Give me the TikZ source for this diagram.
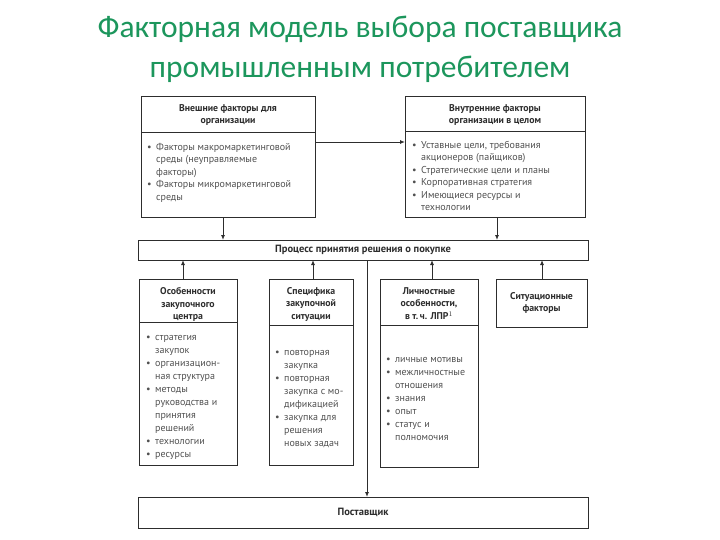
\documentclass[tikz,border=0pt]{standalone}
\usepackage{fontspec}
\setmainfont{PT Sans}
\newfontfamily\titlefont{Carlito}
\usetikzlibrary{arrows.meta,calc}
\definecolor{ttl}{RGB}{28,150,92}
\definecolor{ink}{RGB}{45,45,45}
\definecolor{txt}{RGB}{80,80,80}
\newcommand{\bul}{\makebox[9pt][l]{\textbullet}}
\newcommand{\ind}{\hspace*{9pt}}
\begin{document}
\begin{tikzpicture}[x=1pt,y=-1pt,
  box/.style={draw=ink,line width=1pt,anchor=north west,inner sep=0pt,outer sep=0pt},
  hdr/.style={align=center,anchor=north,inner sep=0pt,text=ink,font=\fontsize{9.8}{12.8}\selectfont\bfseries},
  lst/.style={align=left,anchor=north west,inner sep=0pt,text=txt,font=\fontsize{10}{12.5}\selectfont},
  lstb/.style={lst,font=\fontsize{10}{13}\selectfont},
  lbl/.style={inner sep=0pt,text=ink,font=\fontsize{10.5}{12.8}\selectfont\bfseries},
  conn/.style={draw=ink,line width=0.9pt},
  arr/.style={conn,-{Latex[length=5pt,width=4pt]}}]
\useasboundingbox (0,0) rectangle (720,540);
% title
\node[anchor=base,inner sep=0pt,text=ttl,font=\titlefont\fontsize{31.5}{34}\selectfont] (t1) at (360,38) {Факторная модель выбора поставщика};
\node[anchor=base,inner sep=0pt,text=ttl,font=\titlefont\fontsize{31.5}{34}\selectfont] (t2) at (360,78) {промышленным потребителем};
% boxes
\node[box,minimum width=174,minimum height=121] (ext) at (141,97) {};
\node[box,minimum width=180,minimum height=121] (int) at (405,97) {};
\node[box,minimum width=450,minimum height=20] (proc) at (138,240) {};
\node[box,minimum width=98,minimum height=186] (b1) at (139,279) {};
\node[box,minimum width=84,minimum height=186] (b2) at (269,279) {};
\node[box,minimum width=98,minimum height=188] (b3) at (380,279) {};
\node[box,minimum width=91,minimum height=48] (b4) at (496,279) {};
\node[box,minimum width=450,minimum height=31] (sup) at (138,497) {};
% dividers
\draw[conn] ($(ext.north west)+(0,35)$) -- ($(ext.north east)+(0,35)$);
\draw[conn] ($(int.north west)+(0,34)$) -- ($(int.north east)+(0,34)$);
\draw[conn] ($(b1.north west)+(0,43)$) -- ($(b1.north east)+(0,43)$);
\draw[conn] ($(b2.north west)+(0,46)$) -- ($(b2.north east)+(0,46)$);
\draw[conn] ($(b3.north west)+(0,46)$) -- ($(b3.north east)+(0,46)$);
% headers
\node[hdr] (exth) at (228,104) {Внешние факторы для\\организации};
\node[hdr] (inth) at (495,104) {Внутренние факторы\\организации в целом};
\node[hdr] (b1h) at (188,287) {Особенности\\закупочного\\центра};
\node[hdr] (b2h) at (311,287) {Специфика\\закупочной\\ситуации};
\node[hdr] (b3h) at (429,287) {Личностные\\особенности,\\в т.\,ч. ЛПР$^{1}$};
\node[hdr,anchor=center] (b4h) at (b4.center) {Ситуационные\\факторы};
\node[lbl] (proct) at (proc.center) {Процесс принятия решения о покупке};
\node[lbl] (supt) at (sup.center) {Поставщик};
% lists
\node[lst] (extl) at (147,143) {\bul Факторы макромаркетинговой\\\ind среды (неуправляемые\\\ind факторы)\\\bul Факторы микромаркетинговой\\\ind среды};
\node[lst] (intl) at (412,141) {\bul Уставные цели, требования\\\ind акционеров (пайщиков)\\\bul Стратегические цели и планы\\\bul Корпоративная стратегия\\\bul Имеющиеся ресурсы и\\\ind технологии};
\node[lstb] (b1l) at (146,335) {\bul стратегия\\\ind закупок\\\bul организацион-\\\ind ная структура\\\bul методы\\\ind руководства и\\\ind принятия\\\ind решений\\\bul технологии\\\bul ресурсы};
\node[lstb] (b2l) at (275,350) {\bul повторная\\\ind закупка\\\bul повторная\\\ind закупка с мо-\\\ind дификацией\\\bul закупка для\\\ind решения\\\ind новых задач};
\node[lstb] (b3l) at (386,357) {\bul личные мотивы\\\bul межличностные\\\ind отношения\\\bul знания\\\bul опыт\\\bul статус и\\\ind полномочия};
% coordinates for connector positions
\coordinate (xa) at (223,0);
\coordinate (xb) at (497,0);
\coordinate (x1) at (183,0);
\coordinate (x2) at (313,0);
\coordinate (x3) at (432,0);
\coordinate (x4) at (542,0);
\coordinate (xc) at (367,0);
\coordinate (yh) at (0,142);
% connectors
\draw[arr] (ext.east |- yh) -- (int.west |- yh);
\draw[arr] (ext.south -| xa) -- (proc.north -| xa);
\draw[arr] (int.south -| xb) -- (proc.north -| xb);
\draw[arr] (b1.north -| x1) -- (proc.south -| x1);
\draw[arr] (b2.north -| x2) -- (proc.south -| x2);
\draw[arr] (b3.north -| x3) -- (proc.south -| x3);
\draw[arr] (b4.north -| x4) -- (proc.south -| x4);
\draw[arr] (proc.south -| xc) -- (sup.north -| xc);
\end{tikzpicture}
\end{document}
